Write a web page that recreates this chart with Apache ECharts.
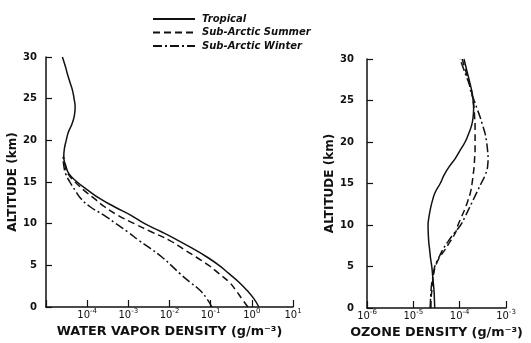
<!DOCTYPE html>
<html>
<head>
<meta charset="utf-8">
<script src="https://cdn.jsdelivr.net/npm/echarts@6/dist/echarts.min.js"></script>
<style>
  html, body { margin: 0; padding: 0; background: #fff; }
  #main { width: 531px; height: 343px; }
</style>
</head>
<body>
<div id="main"></div>
<script>
// altitude in km, one point per km
const altFull = [0, 1, 2, 3, 4, 5, 6, 7, 8, 9, 10, 11, 12, 13, 14, 15, 16, 17, 18, 19, 20, 21, 22, 23, 24, 25, 26, 27, 28, 29, 30]
const altLow = [0, 1, 2, 3, 4, 5, 6, 7, 8, 9, 10, 11, 12, 13, 14, 15, 16, 17, 18]

// water vapor density (g/m^-3)
const vaporTropical = [1.48, 1.12, 0.76, 0.48, 0.28, 0.16, 0.081, 0.037, 0.016, 0.0065, 0.0025, 0.00116, 4.7e-4, 2.05e-4, 1.05e-4, 5.7e-5, 3.6e-5, 3.0e-5, 2.7e-5, 2.8e-5, 3.1e-5, 3.5e-5, 4.3e-5, 4.9e-5, 5.1e-5, 4.8e-5, 4.4e-5, 3.8e-5, 3.3e-5, 2.9e-5, 2.5e-5]
const vaporSummer = [0.80, 0.57, 0.41, 0.28, 0.16, 0.090, 0.044, 0.021, 0.010, 0.0037, 0.0014, 5.6e-4, 2.7e-4, 1.5e-4, 8.4e-5, 5.1e-5, 3.4e-5, 2.9e-5, 2.7e-5]
const vaporWinter = [0.107, 0.081, 0.055, 0.031, 0.018, 0.011, 0.0065, 0.0035, 0.0018, 9.8e-4, 5.0e-4, 2.6e-4, 1.2e-4, 7.1e-5, 5.1e-5, 3.8e-5, 3.0e-5, 2.7e-5, 2.6e-5]

// ozone density (g/m^-3)
const ozoneTropical = [2.9e-5, 2.85e-5, 2.8e-5, 2.7e-5, 2.6e-5, 2.5e-5, 2.35e-5, 2.25e-5, 2.15e-5, 2.1e-5, 2.08e-5, 2.18e-5, 2.35e-5, 2.6e-5, 3.0e-5, 3.8e-5, 4.6e-5, 5.9e-5, 8.0e-5, 1.02e-4, 1.31e-4, 1.56e-4, 1.81e-4, 1.95e-4, 2.0e-4, 1.95e-4, 1.85e-4, 1.68e-4, 1.52e-4, 1.37e-4, 1.24e-4]
const ozoneSummer = [2.4e-5, 2.4e-5, 2.5e-5, 2.6e-5, 2.7e-5, 3.0e-5, 3.6e-5, 4.8e-5, 6.2e-5, 8.0e-5, 9.2e-5, 1.10e-4, 1.31e-4, 1.52e-4, 1.72e-4, 1.85e-4, 1.95e-4, 2.05e-4, 2.1e-4, 2.15e-4, 2.15e-4, 2.15e-4, 2.15e-4, 2.1e-4, 2.05e-4, 1.95e-4, 1.81e-4, 1.64e-4, 1.45e-4, 1.28e-4, 1.13e-4]
const ozoneWinter = [2.3e-5, 2.35e-5, 2.4e-5, 2.5e-5, 2.7e-5, 2.9e-5, 3.5e-5, 4.3e-5, 5.6e-5, 7.6e-5, 1.05e-4, 1.31e-4, 1.60e-4, 1.95e-4, 2.38e-4, 2.9e-4, 3.54e-4, 4.0e-4, 4.1e-4, 4.0e-4, 3.81e-4, 3.54e-4, 3.13e-4, 2.76e-4, 2.38e-4, 2.05e-4, 1.76e-4, 1.60e-4, 1.37e-4, 1.18e-4, 1.02e-4]

const seriesNames = ['Tropical', 'Sub-Arctic Summer', 'Sub-Arctic Winter']

const FONT = 'DejaVu Sans'
const lineTypes = ['solid', [7, 4], [9, 3, 2, 3]]

function pairs(xs, alts) {
  return xs.map((v, i) => [v, alts[i]])
}

function makeSeries(name, idx, xs, alts, axisIndex) {
  return {
    name: name,
    type: 'line',
    xAxisIndex: axisIndex,
    yAxisIndex: axisIndex,
    data: pairs(xs, alts),
    showSymbol: false,
    symbol: 'none',
    smooth: 0.5,
    color: '#111',
    itemStyle: { color: '#111' },
    lineStyle: { color: '#111', width: 1.5, type: lineTypes[idx] }
  }
}

/** 10 with exponent as superscript */
function powLabel(skipExp) {
  return function (value) {
    const e = Math.round(Math.log10(value))
    if (e === skipExp) return ''
    return '{b|10}{s|' + e + '}'
  }
}

const labelRich = {
  b: { fontFamily: FONT, fontSize: 10, color: '#111', verticalAlign: 'bottom', lineHeight: 12 },
  s: { fontFamily: FONT, fontSize: 7, color: '#111', verticalAlign: 'top', lineHeight: 12 }
}

function xAxis(grid, min, max, name, skipExp, gap) {
  return {
    type: 'log',
    logBase: 10,
    gridIndex: grid,
    min: min,
    max: max,
    name: name,
    nameLocation: 'middle',
    nameGap: gap,
    nameTextStyle: { fontFamily: FONT, fontWeight: 'bold', fontSize: 12.8, color: '#111' },
    axisLine: { lineStyle: { color: '#111', width: 1.5 } },
    axisTick: { inside: true, length: 7, lineStyle: { color: '#111', width: 1.2 } },
    minorTick: { show: false },
    axisLabel: { formatter: powLabel(skipExp), rich: labelRich, margin: 1 },
    splitLine: { show: false }
  }
}

function yAxis(grid, gap, labelMargin) {
  return {
    type: 'value',
    gridIndex: grid,
    min: 0,
    max: 30,
    interval: 5,
    name: 'ALTITUDE (km)',
    nameLocation: 'middle',
    nameGap: gap,
    nameTextStyle: { fontFamily: FONT, fontWeight: 'bold', fontSize: 12, color: '#111' },
    axisLine: { show: true, lineStyle: { color: '#111', width: 1.5 } },
    axisTick: { show: true, inside: true, length: 6, lineStyle: { color: '#111', width: 1.2 } },
    axisLabel: { fontFamily: FONT, fontWeight: 'bold', fontSize: 10, color: '#111', margin: labelMargin },
    splitLine: { show: false }
  }
}

const chart = echarts.init(document.getElementById('main'), null, { renderer: 'canvas' })

const option = {
  backgroundColor: '#fff',
  animation: false,
  legend: {
    data: seriesNames,
    orient: 'vertical',
    left: 147,
    top: 9,
    itemWidth: 42,
    itemHeight: 10,
    itemGap: 3.5,
    itemStyle: { opacity: 0 },
    textStyle: { fontFamily: FONT, fontStyle: 'italic', fontWeight: 'bold', fontSize: 10, lineHeight: 10, color: '#111', padding: [0, 0, 0, 2] }
  },
  grid: [
    { left: 46, right: 238, top: 57, bottom: 36, outerBoundsMode: 'none' },
    { left: 367, right: 25, top: 59, bottom: 35, outerBoundsMode: 'none' }
  ],
  xAxis: [
    xAxis(0, 1e-5, 10, 'WATER VAPOR DENSITY (g/m⁻³)', -5, 17),
    xAxis(1, 1e-6, 1e-3, 'OZONE DENSITY (g/m⁻³)', null, 17)
  ],
  yAxis: [
    yAxis(0, 27, 9),
    yAxis(1, 17, 13)
  ],
  series: [
    makeSeries(seriesNames[0], 0, vaporTropical, altFull, 0),
    makeSeries(seriesNames[1], 1, vaporSummer, altLow, 0),
    makeSeries(seriesNames[2], 2, vaporWinter, altLow, 0),
    makeSeries(seriesNames[0], 0, ozoneTropical, altFull, 1),
    makeSeries(seriesNames[1], 1, ozoneSummer, altFull, 1),
    makeSeries(seriesNames[2], 2, ozoneWinter, altFull, 1)
  ]
}

chart.setOption(option)
</script>
</body>
</html>
